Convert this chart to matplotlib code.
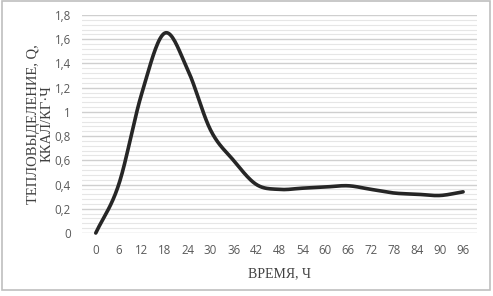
import numpy as np
import matplotlib.pyplot as plt
from matplotlib.patches import Rectangle
from matplotlib.ticker import MultipleLocator

hours = [0, 6, 12, 18, 24, 30, 36, 42, 48, 54, 60, 66, 72, 78, 84, 90, 96]
heat = [0.0, 0.40, 1.15, 1.65, 1.35, 0.85, 0.60, 0.40, 0.36, 0.37, 0.38,
        0.39, 0.36, 0.33, 0.32, 0.31, 0.34]


def smooth(x, y, n=20):
    # catmull-rom, like the smoothed line option in excel
    x = np.asarray(x, float)
    y = np.asarray(y, float)
    px = np.concatenate([[2 * x[0] - x[1]], x, [2 * x[-1] - x[-2]]])
    py = np.concatenate([[2 * y[0] - y[1]], y, [2 * y[-1] - y[-2]]])
    xs, ys = [], []
    t = np.linspace(0, 1, n, endpoint=False)
    for i in range(1, len(px) - 2):
        for p, out in ((px, xs), (py, ys)):
            p0, p1, p2, p3 = p[i - 1], p[i], p[i + 1], p[i + 2]
            out.extend(0.5 * (2 * p1 + (-p0 + p2) * t
                              + (2 * p0 - 5 * p1 + 4 * p2 - p3) * t ** 2
                              + (-p0 + 3 * p1 - 3 * p2 + p3) * t ** 3))
    xs.append(x[-1])
    ys.append(y[-1])
    return np.array(xs), np.array(ys)


fig = plt.figure(figsize=(4.93, 2.96), dpi=100)
fig.patches.append(Rectangle((0.004, 0.02), 0.99, 0.975, transform=fig.transFigure,
                             fill=False, edgecolor='#bfbfbf', linewidth=1.2))
ax = fig.add_axes([0.1663, 0.2128, 0.801, 0.7365])

sx, sy = smooth(hours, heat)
ax.plot(sx, sy, color='#262626', linewidth=2.6, solid_capstyle='round', clip_on=False, zorder=3)

ax.set_xlim(-3.6, 99.6)
ax.set_ylim(0, 1.8)
ax.set_xticks(hours)
ax.yaxis.set_major_locator(MultipleLocator(0.2))
ax.yaxis.set_minor_locator(MultipleLocator(0.04))
ax.set_yticklabels([('%.1f' % v).replace('.', ',').replace(',0', '') if v else '0'
                    for v in ax.get_yticks()])
ax.grid(axis='y', which='major', color='#cfcfcf', linewidth=1.0)
ax.grid(axis='y', which='minor', color='#e6e6e6', linewidth=0.8)
ax.set_axisbelow(True)
for s in ax.spines.values():
    s.set_visible(False)
ax.tick_params(which='both', length=0, labelsize=8.3, labelcolor='#595959', pad=8)
for lab in ax.get_xticklabels() + ax.get_yticklabels():
    lab.set_fontfamily('Open Sans')

ax.set_xlabel('ВРЕМЯ, Ч', family='Liberation Serif', fontsize=10, color='#404040', labelpad=7)
ax.set_ylabel('ТЕПЛОВЫДЕЛЕНИЕ, Q,\nККАЛ/КГ·Ч', family='Liberation Serif', fontsize=10.5,
              color='#404040', labelpad=1, linespacing=1.05)

fig.savefig('out.png', dpi=100)
